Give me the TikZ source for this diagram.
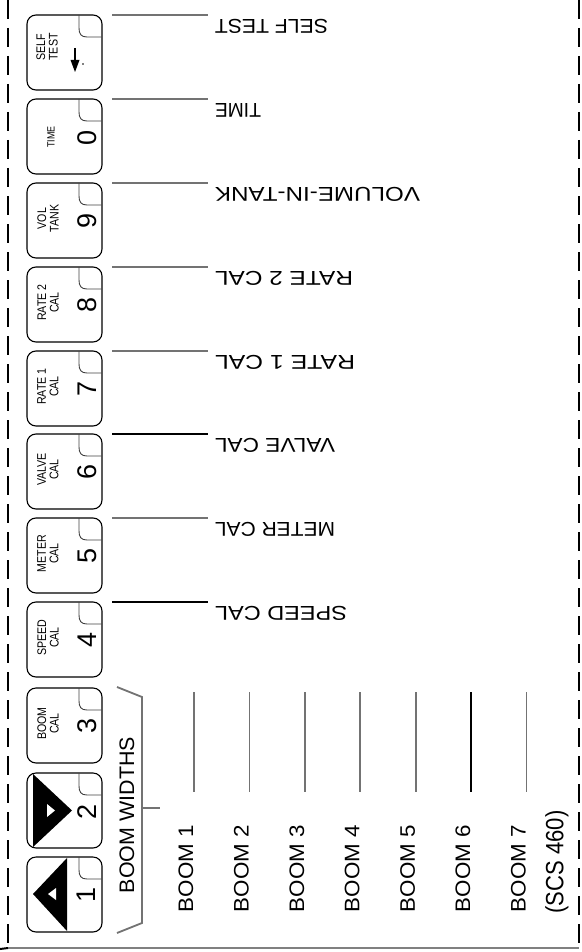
\documentclass[tikz,border=0pt]{standalone}
\usepackage{graphicx}
\usepackage{fontspec}
\setmainfont{Liberation Sans}
\newfontfamily\keyfont[FakeStretch=0.85]{Liberation Sans}
\newcommand\cadtxt[2]{\resizebox{#1pt}{\height}{#2}}
\begin{document}
\begin{tikzpicture}[x=1pt,y=-1pt,
  keybox/.style={draw, line width=1.1pt, rounded corners=9pt, minimum width=75pt, minimum height=75pt, inner sep=0pt},
  notchln/.style={line width=0.9pt, black!75},
  keylbl/.style={rotate=90, inner sep=0pt, align=center, font=\keyfont\fontsize{12.5}{12.5}\selectfont},
  keydig/.style={rotate=90, inner sep=0pt, font=\fontsize{27}{27}\selectfont},
  leadgray/.style={line width=1.8pt, black!55},
  leadblack/.style={line width=1.2pt, black},
  toplbl/.style={rotate=180, inner sep=0pt, font=\fontsize{20}{20}\selectfont},
  boomlbl/.style={rotate=90, inner sep=0pt, font=\fontsize{21}{21}\selectfont},
  edgedash/.style={line width=1.6pt, dash pattern=on 19pt off 9pt},
  bwbracket/.style={line width=1.8pt, black!55},
]
\useasboundingbox (0,0) rectangle (581,952);

% frame
\coordinate (fl0) at (8,0); \coordinate (fl1) at (8,948);
\coordinate (fr0) at (579,0); \coordinate (fr1) at (579,948);
\coordinate (fc) at (0,949);
\draw[edgedash] (fl0) -- (fl1);
\draw[edgedash] (fr0) -- (fr1);
\draw[line width=2.2pt, black!50] (fl1) -- (fr1);
\draw[line width=2pt] (fc) -- (fl1);

% keys with leader lines and labels
\foreach \t/\nm/\txt/\w/\st in {15/st/SELF TEST/113/leadgray, 99/ti/TIME/46/leadgray, 183/vo/VOLUME-IN-TANK/205/leadgray, 267/rb/RATE 2 CAL/138/leadgray, 351/ra/RATE 1 CAL/140/leadgray, 434/va/VALVE CAL/120/leadblack, 518/me/METER CAL/120/leadgray, 602/sp/SPEED CAL/132/leadblack}{
  \coordinate (a\nm) at (112,\t);
  \coordinate (b\nm) at (208,\t);
  \draw[\st] (a\nm) -- (b\nm);
  \node[toplbl] (l\nm) at (215+\w/2, \t+11) {\cadtxt{\w}{\txt}};
}

% key boxes and notches
\foreach \t/\nm in {15/st, 99/ti, 183/vo, 267/rb, 351/ra, 434/va, 518/me, 602/sp, 688/bc, 773/dn, 857/up}{
  \node[keybox] (k\nm) at (64.5,\t+37.5) {};
  \draw[notchln] (79,\t) -- (79,\t+13) .. controls (79,\t+19) and (81,\t+22) .. (87,\t+22) -- (101.5,\t+22);
}

% two-line key captions and digits
\foreach \t/\nm/\la/\lb/\d in {183/vo/VOL/TANK/9, 267/rb/RATE 2/CAL/8, 351/ra/RATE 1/CAL/7, 434/va/VALVE/CAL/6, 518/me/METER/CAL/5, 602/sp/SPEED/CAL/4, 688/bc/BOOM/CAL/3}{
  \node[keylbl] (c\nm) at (48,\t+35.5) {\la\\\lb};
  \node[keydig] (d\nm) at (87,\t+38) {\d};
}

% SELF TEST key
\node[keylbl] (cst) at (47,47) {SELF\\TEST};
\coordinate (ar0) at (75,48); \coordinate (ar1) at (75,62);
\draw[line width=1.2pt] (ar0) -- (ar1);
\fill (70.5,60) -- (79.5,60) -- (75,72) -- cycle;
\fill (83,64) circle (0.9);

% TIME key
\node[keylbl, font=\keyfont\fontsize{10.5}{11}\selectfont] (cti) at (51,137) {TIME};
\node[keydig] (dti) at (87,138) {0};

% arrow keys
\fill (33,774) -- (33,847) -- (72,810.5) -- cycle;
\fill[white] (47,804) -- (47,817) -- (55,810.5) -- cycle;
\node[keydig] (ddn) at (87,812) {2};
\fill (67,858) -- (67,931) -- (33,894) -- cycle;
\fill[white] (56,888) -- (56,900) -- (48,894) -- cycle;
\node[keydig] (dup) at (86,895) {1};

% boom widths bracket
\coordinate (br0) at (117,687); \coordinate (br1) at (142,697);
\coordinate (br2) at (142,923); \coordinate (br3) at (117,933);
\coordinate (bt0) at (142,808); \coordinate (bt1) at (160,808);
\draw[bwbracket] (br0) -- (br1) -- (br2) -- (br3);
\draw[bwbracket] (bt0) -- (bt1);
\node[boomlbl] (bw) at (127,815) {\cadtxt{156}{BOOM WIDTHS}};

% boom lines and labels
\foreach \i/\st in {1/leadgray,2/leadgray,3/leadgray,4/leadgray,5/leadgray,6/leadblack,7/leadgray}{
  \pgfmathsetmacro\bx{194+55.4*(\i-1)}
  \coordinate (bu\i) at (\bx,692);
  \coordinate (bd\i) at (\bx,792);
  \draw[\st] (bu\i) -- (bd\i);
  \node[boomlbl] (bl\i) at (\bx-8,868.5) {\cadtxt{87}{BOOM \i}};
}
\node[boomlbl, font=\fontsize{25}{25}\selectfont] (scs) at (557,862) {\cadtxt{103}{(SCS 460)}};
\end{tikzpicture}
\end{document}
